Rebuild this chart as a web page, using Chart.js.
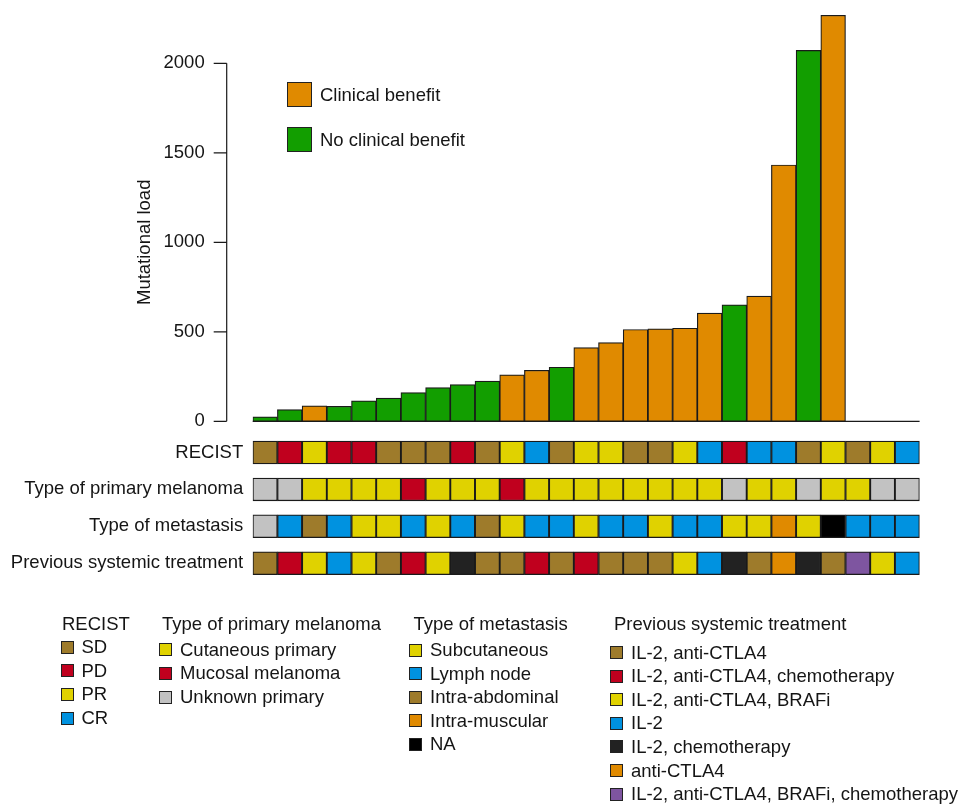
<!DOCTYPE html>
<html>
<head>
<meta charset="utf-8">
<script src="https://cdn.jsdelivr.net/npm/chart.js@4.4.0/dist/chart.umd.min.js"></script>
<style>
  html, body { margin: 0; padding: 0; background: #fff; }
  #wrap { position: relative; width: 961px; height: 805px; font-family: "Liberation Sans", Arial, Helvetica, sans-serif; font-size: 18.5px; color: #151515; }
  #chart { position: absolute; left: 0; top: 0; }
  .leg { position: absolute; white-space: nowrap; }
  .row { position: absolute; left: 0; display: flex; align-items: center; height: 24px; }
  .sw { box-sizing: border-box; border: 1.5px solid #222; flex: none; }
</style>
</head>
<body>
<div id="wrap">
  <canvas id="chart" width="961" height="805"></canvas>
</div>
<script>
// 27 patients, sorted by mutational load (last three have no load measured)
const patients = Array.from({length: 27}, (_, i) => 'Pt ' + (i + 1));
const mutationalLoad = [25, 65, 86, 84, 114, 129, 160, 188, 205, 224, 259, 285, 302, 412,
                        440, 513, 516, 520, 604, 650, 699, 1432, 2072, 2268, null, null, null];
const benefit = ['No clinical benefit', 'No clinical benefit', 'Clinical benefit', 'No clinical benefit',
                 'No clinical benefit', 'No clinical benefit', 'No clinical benefit', 'No clinical benefit',
                 'No clinical benefit', 'No clinical benefit', 'Clinical benefit', 'Clinical benefit',
                 'No clinical benefit', 'Clinical benefit', 'Clinical benefit', 'Clinical benefit',
                 'Clinical benefit', 'Clinical benefit', 'Clinical benefit', 'No clinical benefit',
                 'Clinical benefit', 'Clinical benefit', 'No clinical benefit', 'Clinical benefit',
                 null, null, null];
const yTicks = [0, 500, 1000, 1500, 2000];

const recist = ['SD', 'PD', 'PR', 'PD', 'PD', 'SD', 'SD', 'SD', 'PD', 'SD', 'PR', 'CR', 'SD', 'PR',
                'PR', 'SD', 'SD', 'PR', 'CR', 'PD', 'CR', 'CR', 'SD', 'PR', 'SD', 'PR', 'CR'];
const primary = ['Unknown primary', 'Unknown primary', 'Cutaneous primary', 'Cutaneous primary',
                 'Cutaneous primary', 'Cutaneous primary', 'Mucosal melanoma', 'Cutaneous primary',
                 'Cutaneous primary', 'Cutaneous primary', 'Mucosal melanoma', 'Cutaneous primary',
                 'Cutaneous primary', 'Cutaneous primary', 'Cutaneous primary', 'Cutaneous primary',
                 'Cutaneous primary', 'Cutaneous primary', 'Cutaneous primary', 'Unknown primary',
                 'Cutaneous primary', 'Cutaneous primary', 'Unknown primary', 'Cutaneous primary',
                 'Cutaneous primary', 'Unknown primary', 'Unknown primary'];
const metastasis = ['Unknown', 'Lymph node', 'Intra-abdominal', 'Lymph node', 'Subcutaneous', 'Subcutaneous',
                    'Lymph node', 'Subcutaneous', 'Lymph node', 'Intra-abdominal', 'Subcutaneous', 'Lymph node',
                    'Lymph node', 'Subcutaneous', 'Lymph node', 'Lymph node', 'Subcutaneous', 'Lymph node',
                    'Lymph node', 'Subcutaneous', 'Subcutaneous', 'Intra-muscular', 'Subcutaneous', 'NA',
                    'Lymph node', 'Lymph node', 'Lymph node'];
const treatment = ['IL-2, anti-CTLA4', 'IL-2, anti-CTLA4, chemotherapy', 'IL-2, anti-CTLA4, BRAFi', 'IL-2',
                   'IL-2, anti-CTLA4, BRAFi', 'IL-2, anti-CTLA4', 'IL-2, anti-CTLA4, chemotherapy',
                   'IL-2, anti-CTLA4, BRAFi', 'IL-2, chemotherapy', 'IL-2, anti-CTLA4', 'IL-2, anti-CTLA4',
                   'IL-2, anti-CTLA4, chemotherapy', 'IL-2, anti-CTLA4', 'IL-2, anti-CTLA4, chemotherapy',
                   'IL-2, anti-CTLA4', 'IL-2, anti-CTLA4', 'IL-2, anti-CTLA4', 'IL-2, anti-CTLA4, BRAFi', 'IL-2',
                   'IL-2, chemotherapy', 'IL-2, anti-CTLA4', 'anti-CTLA4', 'IL-2, chemotherapy', 'IL-2, anti-CTLA4',
                   'IL-2, anti-CTLA4, BRAFi, chemotherapy', 'IL-2, anti-CTLA4, BRAFi', 'IL-2'];

const rowLabels = ['RECIST', 'Type of primary melanoma', 'Type of metastasis', 'Previous systemic treatment'];
const rows = [recist, primary, metastasis, treatment];

// colours
const BROWN = '#9e7b2b', RED = '#c0001e', YELLOW = '#e0d200', BLUE = '#0092e0',
      GREY = '#c2c2c2', ORANGE = '#e08a00', GREEN = '#129e00';
const benefitColors = {'Clinical benefit': ORANGE, 'No clinical benefit': GREEN};
const rowColors = [
  {SD: BROWN, PD: RED, PR: YELLOW, CR: BLUE},
  {'Cutaneous primary': YELLOW, 'Mucosal melanoma': RED, 'Unknown primary': GREY},
  {'Subcutaneous': YELLOW, 'Lymph node': BLUE, 'Intra-abdominal': BROWN, 'Intra-muscular': ORANGE,
   'NA': '#000000', 'Unknown': GREY},
  {'IL-2, anti-CTLA4': BROWN, 'IL-2, anti-CTLA4, chemotherapy': RED, 'IL-2, anti-CTLA4, BRAFi': YELLOW,
   'IL-2': BLUE, 'IL-2, chemotherapy': '#222222', 'anti-CTLA4': ORANGE,
   'IL-2, anti-CTLA4, BRAFi, chemotherapy': '#7e55a0'}
];

const FONT = '"Liberation Sans", Arial, Helvetica, sans-serif';
const INK = '#151515';

// both y scales cover the whole plot area; their ranges put the bars on top, the tiles below
const LEFT = 252.7;
const tileHalf = 0.31;

const datasets = [{
  label: 'Mutational load',
  data: mutationalLoad,
  yAxisID: 'y',
  backgroundColor: benefit.map(b => benefitColors[b] || '#fff'),
  borderColor: '#1a1a1a',
  borderWidth: 1.2,
  borderSkipped: false,
  grouped: false,
  barPercentage: 1,
  categoryPercentage: 1
}];
rows.forEach((row, r) => {
  datasets.push({
    label: rowLabels[r],
    data: row.map(() => [r - tileHalf, r + tileHalf]),
    yAxisID: 'yt',
    backgroundColor: row.map(v => rowColors[r][v]),
    borderColor: '#1a1a1a',
    borderWidth: 1.3,
    borderSkipped: false,
    grouped: false,
    barPercentage: 1,
    categoryPercentage: 1
  });
});

// R-style y axis for the bars: detached line 0..2000, ticks, labels, title; plus the zero baseline
const rAxis = {
  id: 'rAxis',
  beforeDatasetsDraw(chart) {
    const {ctx, chartArea: a, scales: {y}} = chart;
    const b = y.getPixelForValue(0);
    ctx.save();
    ctx.strokeStyle = '#1a1a1a';
    ctx.lineWidth = 1.2;
    ctx.beginPath();
    ctx.moveTo(a.left, b);
    ctx.lineTo(a.right, b);
    ctx.stroke();
    ctx.restore();
  },
  afterDatasetsDraw(chart) {
    const {ctx, chartArea: a, scales: {y}} = chart;
    const ax = a.left - 26;
    const y0 = y.getPixelForValue(yTicks[0]);
    const y1 = y.getPixelForValue(yTicks[yTicks.length - 1]);
    ctx.save();
    ctx.strokeStyle = '#1a1a1a';
    ctx.lineWidth = 1.2;
    ctx.beginPath();
    ctx.moveTo(ax, y0);
    ctx.lineTo(ax, y1);
    yTicks.forEach(v => {
      const py = y.getPixelForValue(v);
      ctx.moveTo(ax - 13, py);
      ctx.lineTo(ax, py);
    });
    ctx.stroke();
    ctx.fillStyle = INK;
    ctx.font = '18.5px ' + FONT;
    ctx.textAlign = 'right';
    ctx.textBaseline = 'middle';
    yTicks.forEach(v => ctx.fillText(String(v), ax - 22, y.getPixelForValue(v)));
    ctx.translate(a.left - 108, (y0 + y1) / 2);
    ctx.rotate(-Math.PI / 2);
    ctx.textAlign = 'center';
    ctx.fillText('Mutational load', 0, 0);
    ctx.restore();
  }
};

new Chart(document.getElementById('chart'), {
  type: 'bar',
  data: {labels: patients, datasets: datasets},
  options: {
    responsive: false,
    devicePixelRatio: 1,
    animation: false,
    events: [],
    layout: {padding: {left: 0, right: 41.4, top: 12, bottom: 210.4}},
    plugins: {legend: {display: false}, tooltip: {enabled: false}},
    scales: {
      x: {display: false},
      y: {
        display: false,
        min: -968.2,
        max: 2286.6
      },
      yt: {
        type: 'linear',
        position: 'left',
        reverse: true,
        min: -11.938,
        max: 3.851,
        afterFit: s => { s.width = LEFT; s.paddingTop = 0; s.paddingBottom = 0; },
        afterBuildTicks: s => { s.ticks = rowLabels.map((_, i) => ({value: i})); },
        grid: {display: false, drawTicks: false},
        border: {display: false},
        ticks: {padding: 9.5, color: INK, font: {family: FONT, size: 18.5},
                callback: v => rowLabels[v]}
      }
    }
  },
  plugins: [rAxis]
});

// legends (HTML text)
const wrap = document.getElementById('wrap');
function swatch(size, color) {
  const s = document.createElement('span');
  s.className = 'sw';
  s.style.width = size + 'px';
  s.style.height = size + 'px';
  s.style.background = color;
  return s;
}
function addRow(parent, cy, color, text, size, gap, x0) {
  const d = document.createElement('div');
  d.className = 'row';
  d.style.top = (cy - 12) + 'px';
  d.style.left = x0 + 'px';
  if (color) {
    const s = swatch(size, color);
    s.style.marginRight = gap + 'px';
    d.appendChild(s);
  }
  d.appendChild(document.createTextNode(text));
  parent.appendChild(d);
}

// top legend: clinical benefit
const benefitLegend = document.createElement('div');
benefitLegend.className = 'leg';
benefitLegend.style.left = '287px';
benefitLegend.style.top = '0px';
wrap.appendChild(benefitLegend);
addRow(benefitLegend, 94.5, benefitColors['Clinical benefit'], 'Clinical benefit', 25, 8, 0);
addRow(benefitLegend, 139.5, benefitColors['No clinical benefit'], 'No clinical benefit', 25, 8, 0);

// bottom legends
const legendCols = [
  {x: 60.5, title: 'RECIST', tx: 1.5, first: 647.2, cats: ['SD', 'PD', 'PR', 'CR'], colors: rowColors[0]},
  {x: 159, title: 'Type of primary melanoma', tx: 3, first: 649.8,
   cats: ['Cutaneous primary', 'Mucosal melanoma', 'Unknown primary'], colors: rowColors[1]},
  {x: 409, title: 'Type of metastasis', tx: 4.5, first: 650,
   cats: ['Subcutaneous', 'Lymph node', 'Intra-abdominal', 'Intra-muscular', 'NA'], colors: rowColors[2]},
  {x: 610, title: 'Previous systemic treatment', tx: 4, first: 652.5,
   cats: ['IL-2, anti-CTLA4', 'IL-2, anti-CTLA4, chemotherapy', 'IL-2, anti-CTLA4, BRAFi', 'IL-2',
          'IL-2, chemotherapy', 'anti-CTLA4', 'IL-2, anti-CTLA4, BRAFi, chemotherapy'], colors: rowColors[3]}
];
legendCols.forEach(c => {
  const col = document.createElement('div');
  col.className = 'leg';
  col.style.left = c.x + 'px';
  col.style.top = '0px';
  wrap.appendChild(col);
  addRow(col, 623.5, null, c.title, 0, 0, c.tx);
  c.cats.forEach((k, i) => {
    addRow(col, c.first + i * 23.6, c.colors[k], k, 13, 8, 0);
  });
});
</script>
</body>
</html>
